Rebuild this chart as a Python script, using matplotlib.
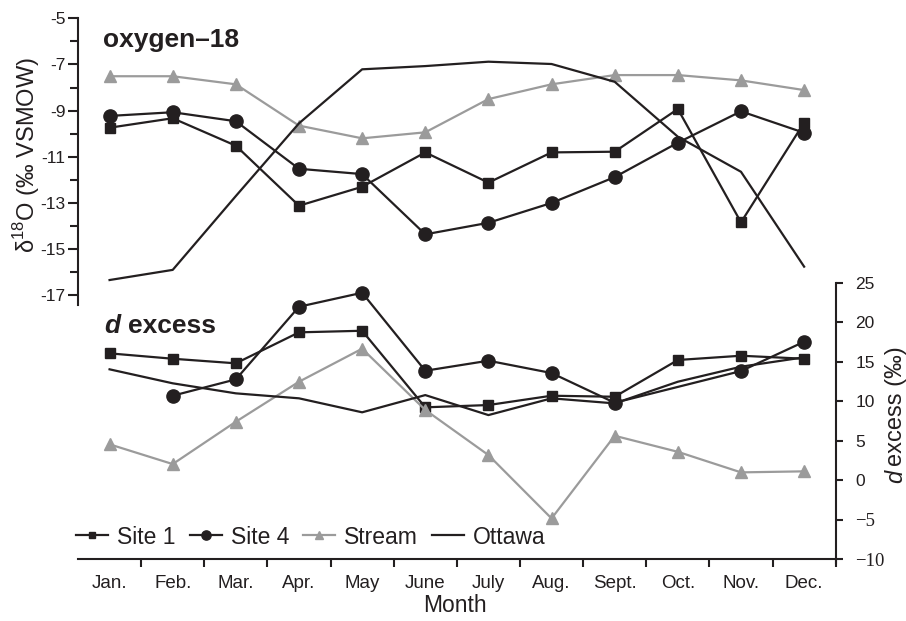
import numpy as np
import matplotlib
matplotlib.use('Agg')
import matplotlib.pyplot as plt
from matplotlib.ticker import FixedLocator

months = ['Jan.', 'Feb.', 'Mar.', 'Apr.', 'May', 'June', 'July', 'Aug.',
          'Sept.', 'Oct.', 'Nov.', 'Dec.']

# oxygen-18 (per mil VSMOW), left axis
o18_site1 = [-9.74, -9.33, -10.52, -13.12, -12.30, -10.81, -12.12, -10.81,
             -10.78, -8.93, -13.84, -9.52]
o18_site4 = [-9.23, -9.07, -9.46, -11.52, -11.75, -14.36, -13.86, -13.00,
             -11.88, -10.39, -9.03, -9.96]
o18_stream = [-7.51, -7.51, -7.86, -9.65, -10.20, -9.94, -8.50, -7.86,
              -7.46, -7.46, -7.69, -8.11]
o18_ottawa = [-16.34, -15.90, -12.70, -9.55, -7.21, -7.07, -6.88, -6.98,
              -7.75, -10.13, -11.65, -15.76]

# d excess (per mil), right axis
dx_site1 = [16.06, 15.38, 14.80, 18.72, 18.92, 9.23, 9.52, 10.70, 10.57,
            15.22, 15.76, 15.38]
dx_site4 = [np.nan, 10.70, 12.77, 21.96, 23.73, 13.86, 15.13, 13.57, 9.81,
            np.nan, 13.82, 17.53]
dx_stream = [4.55, 2.05, 7.41, 12.47, 16.65, 8.90, 3.19, -4.83, 5.63, 3.60,
             1.00, 1.13]
dx_ottawa = [14.04, 12.27, 11.00, 10.37, 8.60, 10.78, 8.25, 10.37, 9.73,
             12.47, 14.37, 15.56]

left_ticks = [-5, -7, -9, -11, -13, -15, -17]
right_ticks = [-10, -5, 0, 5, 10, 15, 20, 25]

black = '#231f20'
grey = '#9b9b9b'

plt.rcParams['font.family'] = ['Liberation Sans', 'DejaVu Sans']
plt.rcParams['axes.unicode_minus'] = False
plt.rcParams['mathtext.fontset'] = 'custom'
plt.rcParams['mathtext.rm'] = 'Liberation Sans'

W, H = 906, 621
fig = plt.figure(figsize=(W / 100, H / 100), dpi=100)
ax = fig.add_axes([78 / W, 1 - 559.3 / H, 757.7 / W, 543.3 / H])
ax2 = ax.twinx()

x = np.arange(12) + 0.5
ax.set_xlim(0, 12)
ax.set_ylim(-28.44, -4.90)
ax2.set_ylim(-10, 58.75)


def draw(a, vals, **kw):
    v = np.array(vals, dtype=float)
    m = ~np.isnan(v)
    return a.plot(x[m], v[m], lw=1.6, **kw)[0]


h1 = draw(ax, o18_site1, color=black, marker='s', ms=6.5)
h2 = draw(ax, o18_site4, color=black, marker='o', ms=9.5)
h3 = draw(ax, o18_stream, color=grey, marker='^', ms=8)
h4 = draw(ax, o18_ottawa, color=black)
draw(ax2, dx_site1, color=black, marker='s', ms=6.5)
draw(ax2, dx_site4, color=black, marker='o', ms=9.5)
draw(ax2, dx_stream, color=grey, marker='^', ms=8)
draw(ax2, dx_ottawa, color=black)

# spines
for s in ['top', 'right']:
    ax.spines[s].set_visible(False)
for s in ['top', 'left', 'bottom']:
    ax2.spines[s].set_visible(False)
ax.spines['left'].set_bounds(-17.42, -5)
ax2.spines['right'].set_bounds(-10.5, 25)
for sp in [ax.spines['left'], ax.spines['bottom'], ax2.spines['right']]:
    sp.set_linewidth(1.5)
    sp.set_color(black)

# x axis
ax.set_xticks(x)
ax.set_xticklabels(months, fontsize=13.5, color=black)
ax.tick_params(axis='x', which='major', length=0, pad=11)
ax.xaxis.set_minor_locator(FixedLocator(np.arange(1, 13)))
ax.tick_params(axis='x', which='minor', length=6, width=1.5, color=black,
               direction='out')

# left axis
ax.set_yticks(left_ticks)
ax.set_yticklabels([str(t) for t in left_ticks], fontsize=12.5, color=black)
ax.yaxis.set_minor_locator(FixedLocator(np.arange(-16, -5, 2)))
ax.tick_params(axis='y', which='major', length=7, width=1.5, color=black,
               pad=2)
ax.tick_params(axis='y', which='minor', length=6, width=1.5, color=black)

# right axis
ax2.set_yticks(right_ticks)
ax2.set_yticklabels([str(t).replace('-', '\u2212') for t in right_ticks],
                    fontsize=12.5, color=black)
for lab, t in zip(ax2.get_yticklabels(), right_ticks):
    if t < 0:
        lab.set_family(['Liberation Serif', 'DejaVu Serif'])
        lab.set_fontsize(13.5)
ax2.tick_params(axis='y', length=5, width=1.5, color=black, pad=9)

# panel titles
fig.text(103 / W, 1 - 47 / H, 'oxygen\u201318', fontsize=19,
         fontweight='bold', color=black, va='baseline')
fig.text(104 / W, 1 - 333 / H, 'd', fontsize=19, fontweight='bold',
         style='italic', color=black, va='baseline')
fig.text(128 / W, 1 - 333 / H, 'excess', fontsize=19, fontweight='bold',
         color=black, va='baseline')

# axis labels
fig.text(27 / W, 1 - 155 / H, '\u03b4$^{18}$O (\u2030 VSMOW)', fontsize=17,
         rotation=90, ha='center', va='center', color=black)
fig.text(902 / W, 1 - 483 / H, 'd', fontsize=17, style='italic',
         rotation=90, rotation_mode='anchor', ha='left', va='baseline',
         color=black)
fig.text(902 / W, 1 - 466 / H, 'excess (\u2030)', fontsize=17,
         rotation=90, rotation_mode='anchor', ha='left', va='baseline',
         color=black)
fig.text(455 / W, 1 - 606 / H, 'Month', fontsize=16.5, ha='center',
         va='center', color=black)

fig.legend([h1, h2, h3, h4], ['Site 1', 'Site 4', 'Stream', 'Ottawa'],
           loc='center left', bbox_to_anchor=(76 / W, 1 - 537 / H),
           ncol=4, frameon=False, fontsize=16.5, handlelength=1.4,
           handletextpad=0.4, columnspacing=0.6, markerscale=0.7,
           borderpad=0, borderaxespad=0, labelcolor=black)

fig.savefig('out.png', dpi=100)
